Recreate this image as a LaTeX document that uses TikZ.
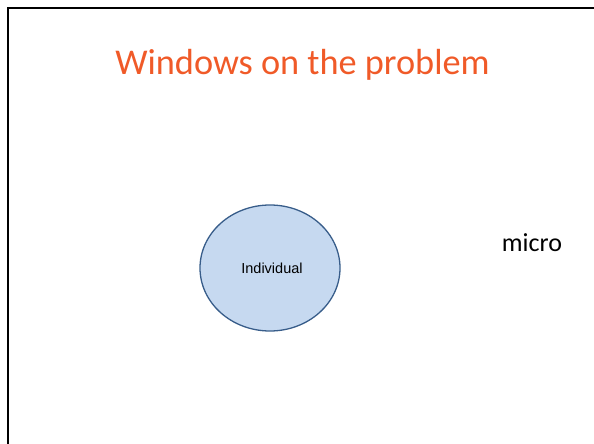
\documentclass[tikz,border=0pt]{standalone}
\usepackage{fontspec}
\usetikzlibrary{shapes.geometric}
\setmainfont{Carlito}
\newfontfamily\arialfont{Liberation Sans}
\definecolor{titleorange}{RGB}{240,90,40}
\definecolor{ellfill}{RGB}{198,217,240}
\definecolor{elldraw}{RGB}{56,93,138}
\begin{document}
\begin{tikzpicture}[x=1pt,y=1pt,
  frameline/.style={line width=2.5pt,black},
  bubble/.style={ellipse,draw=elldraw,fill=ellfill,line width=1.3pt,minimum width=140pt,minimum height=126pt,inner sep=0pt}]
\useasboundingbox (0,0) rectangle (594,444);
\clip (0,0) rectangle (594,444);
\draw[frameline] (8,-10) -- (8,436) -- (610,436);
\node[anchor=base,text=titleorange,font=\fontsize{36.3}{44}\selectfont,inner sep=0pt] (title) at (302.5,369) {Windows on the problem};
\node[bubble] (ind) at (270,176) {};
\node[anchor=base,font=\arialfont\fontsize{14.5}{17}\selectfont,inner sep=0pt] (indlabel) at (272,170) {Individual};
\node[anchor=base,font=\fontsize{26}{30}\selectfont,inner sep=0pt] (micro) at (532,192) {micro};
\end{tikzpicture}
\end{document}
